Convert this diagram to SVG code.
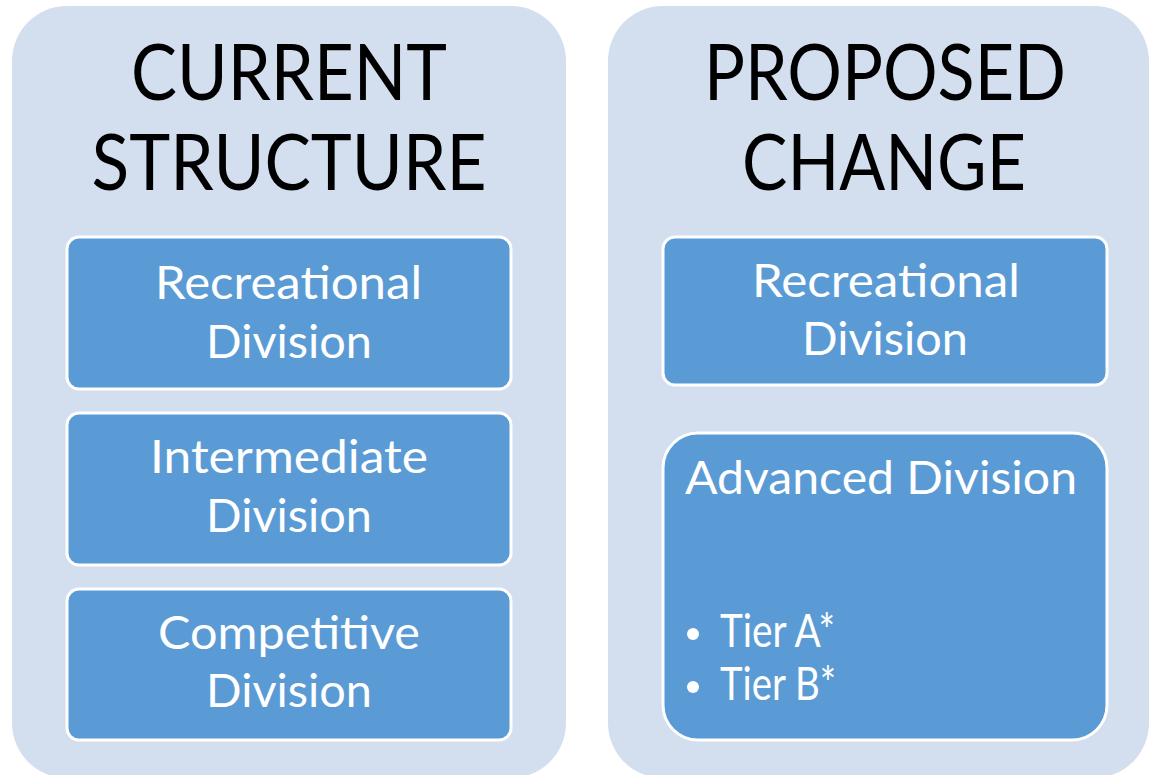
<svg xmlns="http://www.w3.org/2000/svg" width="1149" height="775" viewBox="0 0 1149 775">
<style>
.panel{fill:#D3DEEF}
.box{fill:#5B9BD5;stroke:#FFFFFF;stroke-width:3}
.title{font-family:Lato,"Open Sans","Liberation Sans",sans-serif;font-size:77px;fill:#000;text-anchor:middle}
.lbl{font-family:Lato,"Open Sans","Liberation Sans",sans-serif;font-size:46px;fill:#FFF;text-anchor:middle}
.lft{font-family:Lato,"Open Sans","Liberation Sans",sans-serif;font-size:46px;fill:#FFF}
</style>
<rect width="1149" height="775" fill="#FFFFFF"/>
<g id="panel-current">
<rect class="panel" x="12" y="6" width="554" height="772" rx="55"/>
<text class="title" x="289" y="100" textLength="316" lengthAdjust="spacingAndGlyphs">CURRENT</text>
<text class="title" x="289" y="190" textLength="395" lengthAdjust="spacingAndGlyphs">STRUCTURE</text>
</g>
<g id="panel-proposed">
<rect class="panel" x="608" y="6" width="541" height="772" rx="55"/>
<text class="title" x="885" y="100" textLength="362" lengthAdjust="spacingAndGlyphs">PROPOSED</text>
<text class="title" x="884" y="190" textLength="284" lengthAdjust="spacingAndGlyphs">CHANGE</text>
</g>
<g id="node-recreational-current">
<rect class="box" x="67" y="237" width="444" height="152" rx="12"/>
<text class="lbl" x="288.5" y="299" textLength="267" lengthAdjust="spacingAndGlyphs">Recreational</text>
<text class="lbl" x="289" y="358" textLength="166" lengthAdjust="spacingAndGlyphs">Division</text>
</g>
<g id="node-intermediate">
<rect class="box" x="67" y="413" width="444" height="152" rx="12"/>
<text class="lbl" x="289" y="473" textLength="278" lengthAdjust="spacingAndGlyphs">Intermediate</text>
<text class="lbl" x="289" y="532" textLength="166" lengthAdjust="spacingAndGlyphs">Division</text>
</g>
<g id="node-competitive">
<rect class="box" x="67" y="589" width="444" height="151" rx="12"/>
<text class="lbl" x="289" y="649" textLength="262" lengthAdjust="spacingAndGlyphs">Competitive</text>
<text class="lbl" x="289" y="707" textLength="166" lengthAdjust="spacingAndGlyphs">Division</text>
</g>
<g id="node-recreational-proposed">
<rect class="box" x="663" y="237" width="444" height="148" rx="12"/>
<text class="lbl" x="886" y="297" textLength="268" lengthAdjust="spacingAndGlyphs">Recreational</text>
<text class="lbl" x="885" y="355" textLength="166" lengthAdjust="spacingAndGlyphs">Division</text>
</g>
<g id="node-advanced">
<rect class="box" x="663" y="433" width="444" height="307" rx="35"/>
<text class="lft" x="685" y="494" textLength="392" lengthAdjust="spacingAndGlyphs">Advanced Division</text>
<circle cx="693" cy="634" r="6" fill="#FFF"/>
<text class="lft" x="720" y="647" font-size="34" textLength="115" lengthAdjust="spacingAndGlyphs">Tier A*</text>
<circle cx="693" cy="687" r="6" fill="#FFF"/>
<text class="lft" x="720" y="700" font-size="34" textLength="116" lengthAdjust="spacingAndGlyphs">Tier B*</text>
</g>
<g id="connectors"></g>
</svg>
